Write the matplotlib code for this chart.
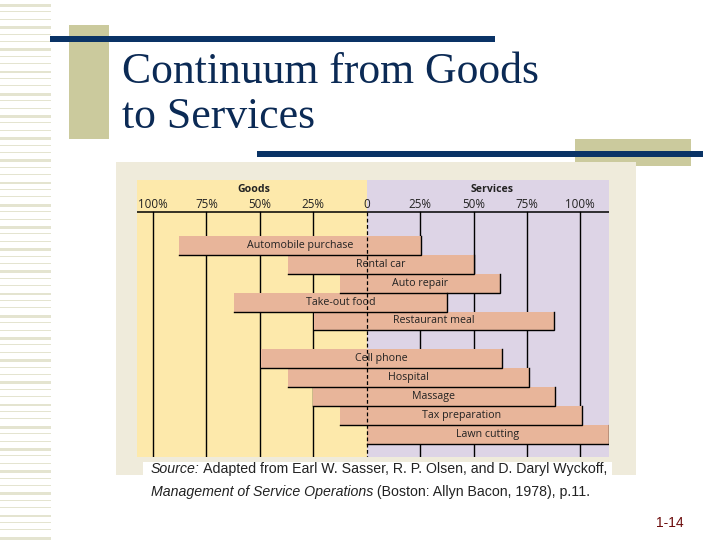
import numpy as np
import matplotlib
matplotlib.use("Agg")
import matplotlib.pyplot as plt
from matplotlib.patches import Rectangle

# chart data
items = ["Automobile purchase", "Rental car", "Auto repair", "Take-out food",
         "Restaurant meal", "Cell phone", "Hospital", "Massage",
         "Tax preparation", "Lawn cutting"]
rows = [0, 1, 2, 3, 4, 6, 7, 8, 9, 10]
goods_pct = [88, 37, 12.5, 62, 24.5, 49.5, 37, 25, 12.5, 0]
services_pct = [25.5, 50, 62.5, 37.5, 87.5, 63.5, 76, 88, 101, 113.4]
tick_pos = [-100, -75, -50, -25, 0, 25, 50, 75, 100]
tick_labels = ["100%", "75%", "50%", "25%", "0", "25%", "50%", "75%", "100%"]

YELLOW = "#fde9ab"
PURPLE = "#ddd4e6"
BAR = "#e8b59a"
BEIGE = "#efebdb"
NAVY = "#0a3366"
OLIVE = "#cbca9d"
STRIPE = "#e4e4d0"

fig = plt.figure(figsize=(7.2, 5.4), dpi=100)
fig.patch.set_facecolor("white")

# slide decoration, in pixel coordinates
deco = fig.add_axes([0, 0, 1, 1])
deco.set_xlim(0, 720)
deco.set_ylim(540, 0)
deco.axis("off")

for i, y in enumerate(np.arange(4, 540, 7.4)):
    deco.add_patch(Rectangle((0, y), 51, 1.0 + (i % 3 == 0) * 1.8,
                             color=STRIPE, lw=0))

deco.add_patch(Rectangle((69, 25), 40, 114, color=OLIVE, lw=0))
deco.add_patch(Rectangle((50, 36), 445, 6, color=NAVY, lw=0))
deco.add_patch(Rectangle((575, 139), 116, 27, color=OLIVE, lw=0))
deco.add_patch(Rectangle((116, 162), 520, 313, color=BEIGE, lw=0))
deco.add_patch(Rectangle((257, 151), 446, 6, color=NAVY, lw=0))
deco.add_patch(Rectangle((143, 462), 469, 50, color="white", lw=0))

deco.text(122, 83, "Continuum from Goods", family="Liberation Serif",
          fontsize=31.5, color="#0b2a55", va="baseline")
deco.text(122, 128, "to Services", family="Liberation Serif",
          fontsize=31.5, color="#0b2a55", va="baseline")

src_kw = dict(family="Liberation Sans", fontsize=10.2, color="#222222")
t1 = deco.text(151, 473, "Source:", style="italic", va="baseline", **src_kw)
deco.annotate(" Adapted from Earl W. Sasser, R. P. Olsen, and D. Daryl Wyckoff,",
              xy=(1, 0), xycoords=t1, va="bottom", **src_kw)
t2 = deco.text(151, 496, "Management of Service Operations", style="italic",
               va="baseline", **src_kw)
deco.annotate(" (Boston: Allyn Bacon, 1978), p.11.",
              xy=(1, 0), xycoords=t2, va="bottom", **src_kw)

deco.text(670, 523, "1-14", family="Liberation Sans", fontsize=10,
          color="#6b0a0a", ha="center", va="center")

# chart area
L, R, T, B = 136.7, 609, 180, 456.7
ax = fig.add_axes([L / 720, 1 - B / 540, (R - L) / 720, (B - T) / 540])
ax.set_xlim(-107.6, 113.4)
ax.set_ylim(11.68, -2.96)
ax.axis("off")

ax.axvspan(-107.6, 0, color=YELLOW, lw=0, zorder=0)
ax.axvspan(0, 113.4, color=PURPLE, lw=0, zorder=0)

axis_y = -1.25
ax.plot([-107.6, 113.4], [axis_y, axis_y], color="black", lw=1.1, zorder=2)
for x in tick_pos:
    if x != 0:
        ax.plot([x, x], [axis_y, 11.68], color="black", lw=1.0, zorder=1)

lab_font = "Open Sans"
for x, lab in zip(tick_pos, tick_labels):
    ax.text(x, -1.64, lab, ha="center", va="center", family=lab_font,
            fontsize=8.4, color="#222222", zorder=4)
ax.text(-53, -2.45, "Goods", ha="center", va="center", family=lab_font,
        fontsize=7.6, weight="bold", color="#222222")
ax.text(58.5, -2.45, "Services", ha="center", va="center", family=lab_font,
        fontsize=7.6, weight="bold", color="#222222")

left = [-g for g in goods_pct]
width = [s + g for s, g in zip(services_pct, goods_pct)]
ax.barh([r + 0.5 for r in rows], width, left=left, height=1.0,
        color=BAR, lw=0, zorder=2)
for r, l0, s, name in zip(rows, left, services_pct, items):
    ax.plot([l0, s, s], [r + 1, r + 1, r], color="black", lw=1.0, zorder=3,
            solid_joinstyle="miter")
    ax.text((l0 + s) / 2, r + 0.5, name, ha="center", va="center",
            family=lab_font, fontsize=7.7, color="#222222", zorder=4)

ax.plot([0, 0], [axis_y, 11.68], color="black", lw=0.9, ls=(0, (3, 2)),
        zorder=5)

fig.savefig("out.png", dpi=100)
